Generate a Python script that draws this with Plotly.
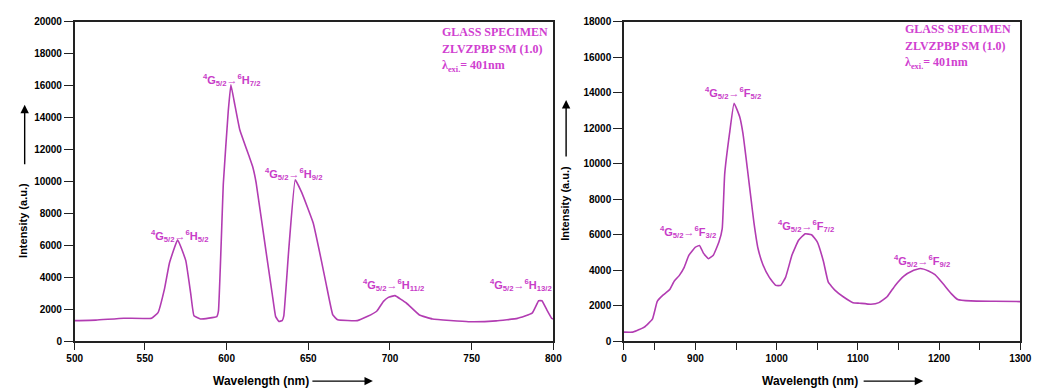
import plotly.graph_objects as go

# ---------------- data ----------------
wl_left = [507, 520, 537, 554, 558, 562, 565, 570, 575, 578, 580, 584, 594, 595, 598, 601,
           602.6, 605, 608, 614, 616, 618, 624, 628, 630, 632, 634, 635, 638, 642, 646, 653,
           658, 661, 665, 668, 680, 686, 692, 696, 699, 703, 710, 718, 726, 748, 765, 778,
           787, 791, 793, 796, 799, 800]
int_left = [1300, 1330, 1450, 1450, 1800, 3300, 4900, 6350, 5050, 3000, 1600, 1400, 1550, 1900, 9900, 14400,
            16050, 14800, 13250, 11500, 10900, 9950, 5700, 2900, 1550, 1250, 1300, 1600, 5700, 10100, 9300, 7400,
            5050, 3550, 1650, 1350, 1300, 1550, 1900, 2500, 2750, 2860, 2400, 1650, 1400, 1230, 1280, 1440,
            1760, 2540, 2540, 1970, 1440, 1400]

wl_right = [812, 823, 837, 847, 853, 860, 868, 874, 880, 886, 892, 900, 905, 910, 916, 922, 929, 933,
            936, 942, 947.6, 954.5, 958.5, 964, 968.5, 972, 977, 983, 991, 999, 1005, 1011, 1019, 1027,
            1035, 1043, 1050, 1057.6, 1063.6, 1072, 1082, 1094, 1102, 1116, 1126, 1136, 1146, 1157, 1167,
            1177, 1187, 1195, 1205, 1215, 1223, 1239, 1268, 1300]
int_right = [520, 520, 800, 1250, 2250, 2600, 2900, 3400, 3700, 4150, 4850, 5300, 5400, 4950, 4650, 4850, 5600, 6350,
             9400, 11700, 13400, 12640, 11700, 9700, 8000, 6700, 5240, 4330, 3600, 3150, 3150, 3600, 4870, 5690,
             6050, 6000, 5600, 4510, 3330, 2870, 2510, 2180, 2150, 2090, 2180, 2510, 3150, 3690, 3960,
             4100, 3960, 3750, 3240, 2690, 2360, 2280, 2260, 2240]

left_tickvals = [507, 550, 600, 650, 700, 750, 800]
left_ticktext = ["500", "550", "600", "650", "700", "750", "800"]
right_tickvals = [812, 850, 900, 950, 1000, 1050, 1100, 1150, 1200, 1250, 1300]
right_ticktext = ["0", "", "900", "", "1000", "", "1100", "", "1200", "", "1300"]

left_labels = [
    (571, 6600, "<sup>4</sup>G<sub>5/2</sub>→<sup>6</sup>H<sub>5/2</sub>"),
    (603, 16360, "<sup>4</sup>G<sub>5/2</sub>→<sup>6</sup>H<sub>7/2</sub>"),
    (641, 10480, "<sup>4</sup>G<sub>5/2</sub>→<sup>6</sup>H<sub>9/2</sub>"),
    (702, 3500, "<sup>4</sup>G<sub>5/2</sub>→<sup>6</sup>H<sub>11/2</sub>"),
    (780, 3500, "<sup>4</sup>G<sub>5/2</sub>→<sup>6</sup>H<sub>13/2</sub>"),
]
right_labels = [
    (946, 13960, "<sup>4</sup>G<sub>5/2</sub>→<sup>6</sup>F<sub>5/2</sub>"),
    (891, 6160, "<sup>4</sup>G<sub>5/2</sub>→<sup>6</sup>F<sub>3/2</sub>"),
    (1036, 6490, "<sup>4</sup>G<sub>5/2</sub>→<sup>6</sup>F<sub>7/2</sub>"),
    (1179, 4530, "<sup>4</sup>G<sub>5/2</sub>→<sup>6</sup>F<sub>9/2</sub>"),
]
info_lines = ["GLASS SPECIMEN", "ZLVZPBP SM (1.0)", "λ<sub>exi.</sub>= 401nm"]

# ---------------- figure ----------------
W, H = 1045, 391
LINE = "#b23cb2"
TXT = "#c83cc8"

def px(x):
    return x / W

def py(y):
    return 1 - y / H

fig = go.Figure()
fig.add_trace(go.Scatter(x=wl_left, y=int_left, mode="lines", xaxis="x", yaxis="y",
                         line=dict(color=LINE, width=1.6, shape="spline", smoothing=0.3),
                         showlegend=False, hoverinfo="skip"))
fig.add_trace(go.Scatter(x=wl_right, y=int_right, mode="lines", xaxis="x2", yaxis="y2",
                         line=dict(color=LINE, width=1.6, shape="spline", smoothing=0.35),
                         showlegend=False, hoverinfo="skip"))

tickfont = dict(family="Liberation Sans, Arial", size=10, color="black", weight="bold")
axis_common = dict(showgrid=False, zeroline=False, showline=True, linecolor="#222",
                   linewidth=1.5, mirror=True, ticks="outside", tickcolor="#222",
                   tickwidth=1.2, tickfont=tickfont)

fig.update_layout(
    width=W, height=H, margin=dict(l=0, r=0, t=0, b=0),
    paper_bgcolor="white", plot_bgcolor="white",
    xaxis=dict(domain=[px(68), px(556)], range=[507, 800], tickvals=left_tickvals,
               ticktext=left_ticktext, ticklen=7, anchor="y", **axis_common),
    yaxis=dict(domain=[py(346), py(16)], range=[0, 20000], dtick=2000, tickformat="d",
               ticklen=9, anchor="x", **axis_common),
    xaxis2=dict(domain=[px(628), px(1032)], range=[812, 1300], tickvals=right_tickvals,
                ticktext=right_ticktext, ticklen=7, anchor="y2", **axis_common),
    yaxis2=dict(domain=[py(346), py(16)], range=[0, 18000], dtick=2000, tickformat="d",
                ticklen=9, anchor="x2", **axis_common),
)

ann = []
lab_font = dict(family="Liberation Sans, Arial", size=11, color=TXT, weight="bold")
for x, y, t in left_labels:
    ann.append(dict(x=x, y=y, xref="x", yref="y", text=t, showarrow=False, font=lab_font))
for x, y, t in right_labels:
    ann.append(dict(x=x, y=y, xref="x2", yref="y2", text=t, showarrow=False, font=lab_font))

info_font = dict(family="Liberation Serif, Times New Roman", size=12, color="#d040d0", weight="bold")
for x0, ys in [(440, [27, 44, 62]), (912, [24, 41, 59])]:
    for yy, t in zip(ys, info_lines):
        ann.append(dict(x=px(x0), y=py(yy), xref="paper", yref="paper", text=t,
                        showarrow=False, xanchor="left", yanchor="middle", font=info_font))

title_font = dict(family="Liberation Sans, Arial", size=11, color="black", weight="bold")
for x0, yc in [(16, 221), (568, 204)]:
    ann.append(dict(x=px(x0), y=py(yc), xref="paper", yref="paper", text="Intensity (a.u.)",
                    textangle=-90, showarrow=False, xanchor="center", yanchor="middle", font=title_font))
xt_font = dict(family="Liberation Sans, Arial", size=12, color="black", weight="bold")
for xc in [258, 818]:
    ann.append(dict(x=px(xc), y=py(387), xref="paper", yref="paper", text="Wavelength (nm)",
                    showarrow=False, xanchor="center", yanchor="middle", font=xt_font))

# arrows
for hx, hy, tx, ty in [(17, 102, 17, 163), (569, 97, 569, 155), (372, 387, 310, 387), (933, 387, 872, 387)]:
    ann.append(dict(x=px(hx), y=py(hy), xref="paper", yref="paper", text="",
                    showarrow=True, ax=tx - hx, ay=ty - hy, axref="pixel", ayref="pixel",
                    arrowhead=2, arrowsize=1.2, arrowwidth=1.4, arrowcolor="black"))

fig.update_layout(annotations=ann)
fig.write_html("out.html")
